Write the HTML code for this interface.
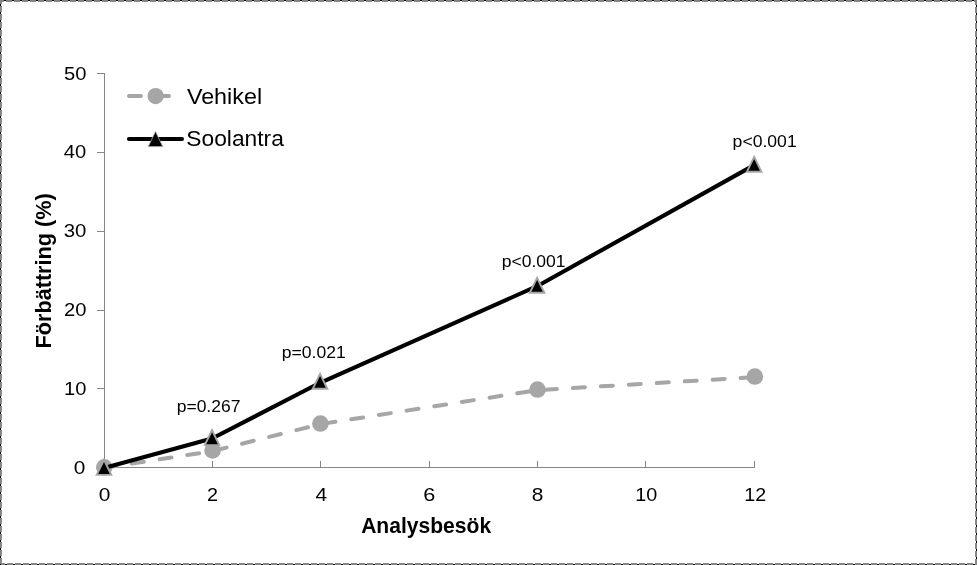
<!DOCTYPE html>
<html><head><meta charset="utf-8"><title>Chart</title>
<style>
html,body{margin:0;padding:0;background:#fff;}
body{width:977px;height:565px;overflow:hidden;font-family:"Liberation Sans",sans-serif;}
svg{display:block;will-change:transform;}
text{font-family:"Liberation Sans",sans-serif;fill:#000;}
</style></head><body>
<svg width="977" height="565" viewBox="0 0 977 565">
<rect x="0" y="0" width="977" height="565" fill="#fff"/>

<g shape-rendering="crispEdges">
<rect x="0" y="0" width="977" height="2" fill="#868686"/>
<rect x="0" y="563" width="977" height="2" fill="#868686"/>
<rect x="0" y="0" width="2" height="565" fill="#868686"/>
<rect x="975" y="0" width="2" height="565" fill="#868686"/>
<path d="M4 0.5H975" stroke="#000" stroke-width="1" stroke-dasharray="2 6" fill="none"/>
<path d="M4 1.5H975" stroke="#fff" stroke-width="1" stroke-dasharray="2 6" fill="none"/>
<path d="M0.5 4V565" stroke="#000" stroke-width="1" stroke-dasharray="2 6" fill="none"/>
<path d="M1.5 4V563" stroke="#fff" stroke-width="1" stroke-dasharray="2 6" fill="none"/>
<path d="M5 564.5H975" stroke="#000" stroke-width="1" stroke-dasharray="2 6" fill="none"/>
<path d="M5 563.5H975" stroke="#fff" stroke-width="1" stroke-dasharray="2 6" fill="none"/>
<path d="M976.5 5V563" stroke="#000" stroke-width="1" stroke-dasharray="2 6" fill="none"/>
<path d="M975.5 5V563" stroke="#fff" stroke-width="1" stroke-dasharray="2 6" fill="none"/>
</g>

<g stroke="#868686" stroke-width="1" fill="none" shape-rendering="crispEdges">
<path d="M104.5 73V468"/>
<path d="M104 467.5H755"/>
<path d="M97 73.5H105"/>
<path d="M97 152.5H105"/>
<path d="M97 231.5H105"/>
<path d="M97 310.5H105"/>
<path d="M97 388.5H105"/>
<path d="M97 467.5H105"/>
<path d="M104.5 461V468"/>
<path d="M212.5 461V468"/>
<path d="M320.5 461V468"/>
<path d="M429.5 461V468"/>
<path d="M537.5 461V468"/>
<path d="M645.5 461V468"/>
<path d="M754.5 461V468"/>
</g>
<path d="M128.95 96H182" stroke="#a6a6a6" stroke-width="4" stroke-dasharray="12 16" stroke-linecap="round" fill="none"/>
<circle cx="155.65" cy="96.05" r="8.15" fill="#a6a6a6"/>
<path d="M128.95 139.0H182" stroke="#000" stroke-width="4.1" stroke-linecap="round" fill="none"/>
<polygon points="155.50,131.50 148.30,146.60 162.70,146.60" fill="#000" stroke="#a6a6a6" stroke-width="0.8" stroke-linejoin="miter"/>
<polyline points="104.25,467.90 212.53,451.10 320.40,424.12 537.47,390.16 754.85,377.16" stroke="#a6a6a6" stroke-width="4" stroke-dasharray="12 16" stroke-linecap="round" stroke-linejoin="round" fill="none"/>
<circle cx="104.25" cy="467.30" r="8.3" fill="#a6a6a6"/>
<circle cx="212.53" cy="450.50" r="8.3" fill="#a6a6a6"/>
<circle cx="320.40" cy="423.52" r="8.3" fill="#a6a6a6"/>
<circle cx="537.47" cy="389.56" r="8.3" fill="#a6a6a6"/>
<circle cx="754.85" cy="376.56" r="8.3" fill="#a6a6a6"/>
<polyline points="104.00,468.00 212.04,438.55 320.06,382.80 537.10,286.17 754.16,165.12" stroke="#000" stroke-width="4.1" stroke-linecap="round" stroke-linejoin="round" fill="none"/>
<polygon points="104.00,459.95 96.70,474.85 111.30,474.85" fill="#000" stroke="#a6a6a6" stroke-width="1.9" stroke-linejoin="miter"/>
<polygon points="212.04,430.25 204.74,445.15 219.34,445.15" fill="#000" stroke="#a6a6a6" stroke-width="1.9" stroke-linejoin="miter"/>
<polygon points="320.06,373.85 312.76,388.75 327.36,388.75" fill="#000" stroke="#a6a6a6" stroke-width="1.9" stroke-linejoin="miter"/>
<polygon points="537.10,277.82 529.80,292.72 544.40,292.72" fill="#000" stroke="#a6a6a6" stroke-width="1.9" stroke-linejoin="miter"/>
<polygon points="754.16,156.82 746.86,171.72 761.46,171.72" fill="#000" stroke="#a6a6a6" stroke-width="1.9" stroke-linejoin="miter"/>
<text id="legV" x="186.90" y="103.70" font-size="21.8" textLength="75.19" lengthAdjust="spacingAndGlyphs">Vehikel</text>
<text id="legS" x="186.33" y="146.10" font-size="21.8" textLength="97.52" lengthAdjust="spacingAndGlyphs">Soolantra</text>
<text id="y50" x="64.02" y="79.85" font-size="17.7" textLength="22.41" lengthAdjust="spacingAndGlyphs">50</text>
<text id="y40" x="63.82" y="157.85" font-size="17.7" textLength="22.44" lengthAdjust="spacingAndGlyphs">40</text>
<text id="y30" x="63.65" y="236.85" font-size="17.7" textLength="22.71" lengthAdjust="spacingAndGlyphs">30</text>
<text id="y20" x="63.93" y="315.85" font-size="17.7" textLength="22.48" lengthAdjust="spacingAndGlyphs">20</text>
<text id="y10" x="63.98" y="394.85" font-size="17.7" textLength="22.39" lengthAdjust="spacingAndGlyphs">10</text>
<text id="y0" x="73.79" y="473.85" font-size="17.7" textLength="11.61" lengthAdjust="spacingAndGlyphs">0</text>
<text id="x0" x="98.80" y="501.00" font-size="17.7" textLength="11.63" lengthAdjust="spacingAndGlyphs">0</text>
<text id="x2" x="206.93" y="501.00" font-size="17.7" textLength="11.02" lengthAdjust="spacingAndGlyphs">2</text>
<text id="x4" x="315.55" y="501.00" font-size="17.7" textLength="11.64" lengthAdjust="spacingAndGlyphs">4</text>
<text id="x6" x="423.37" y="501.00" font-size="17.7" textLength="12.06" lengthAdjust="spacingAndGlyphs">6</text>
<text id="x8" x="531.65" y="501.00" font-size="17.7" textLength="11.60" lengthAdjust="spacingAndGlyphs">8</text>
<text id="x10" x="635.31" y="501.00" font-size="17.7" textLength="22.04" lengthAdjust="spacingAndGlyphs">10</text>
<text id="x12" x="744.23" y="501.00" font-size="17.7" textLength="21.89" lengthAdjust="spacingAndGlyphs">12</text>
<text id="xt" x="361.14" y="532.70" font-size="21.3" font-weight="bold" textLength="130.04" lengthAdjust="spacingAndGlyphs">Analysbesök</text>
<text id="yt" transform="translate(51.30 348.50) rotate(-90)" font-size="22.2" font-weight="bold" textLength="155.24" lengthAdjust="spacingAndGlyphs">Förbättring (%)</text>
<text id="p1" x="176.69" y="412.30" font-size="16.65" textLength="63.75" lengthAdjust="spacingAndGlyphs">p=0.267</text>
<text id="p2" x="281.82" y="357.65" font-size="16.65" textLength="63.82" lengthAdjust="spacingAndGlyphs">p=0.021</text>
<text id="p3" x="501.69" y="266.50" font-size="16.65" textLength="63.85" lengthAdjust="spacingAndGlyphs">p&lt;0.001</text>
<text id="p4" x="732.63" y="147.15" font-size="16.65" textLength="64.06" lengthAdjust="spacingAndGlyphs">p&lt;0.001</text>
</svg></body></html>
